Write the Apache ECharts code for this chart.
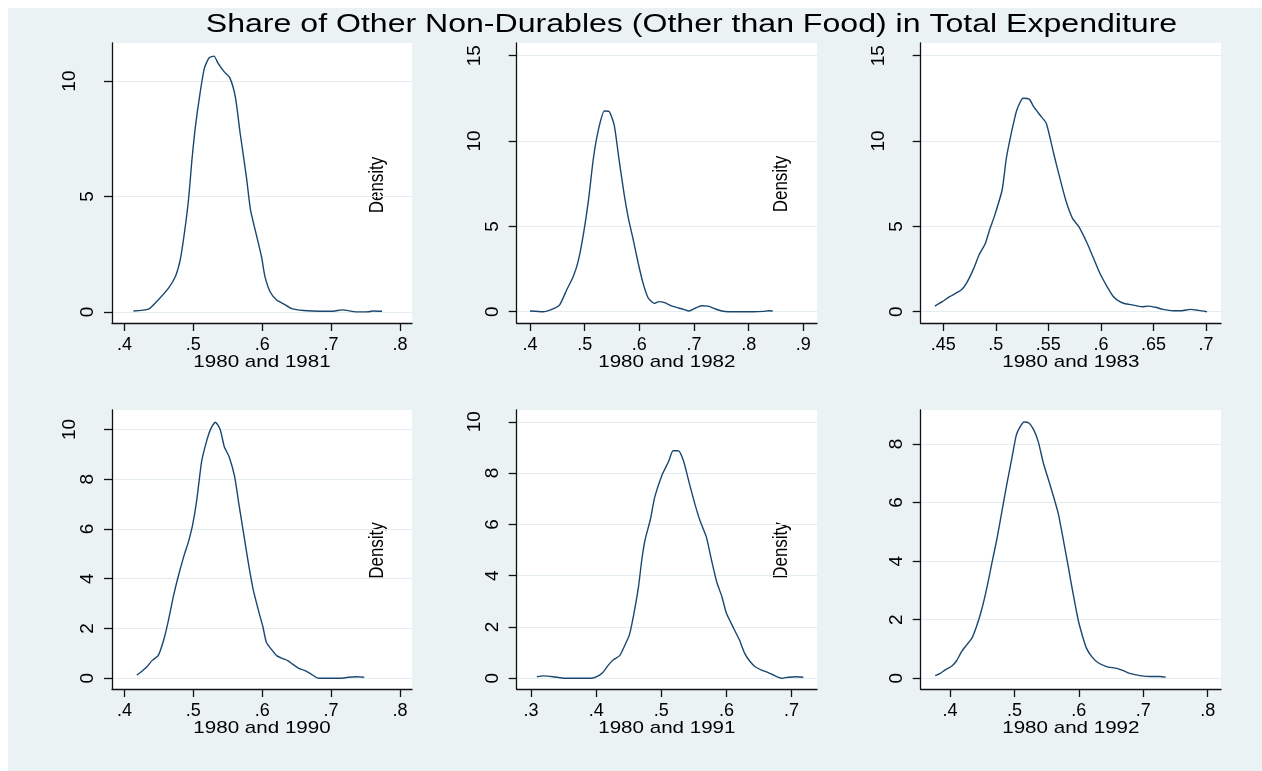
<!DOCTYPE html>
<html>
<head>
<meta charset="utf-8">
<title>Share of Other Non-Durables</title>
<script src="https://cdn.jsdelivr.net/npm/echarts@6.0.0/dist/echarts.min.js"></script>
<style>
  html, body { margin: 0; padding: 0; background: #fff; }
  #main { position: absolute; left: 8px; top: 8px; width: 1254px; height: 763px; }
</style>
</head>
<body>
<div id="main"></div>
<script>
// kernel density curves
const x1981 = [0.413, 0.435, 0.449, 0.464, 0.474, 0.481, 0.487, 0.493, 0.498, 0.503, 0.509, 0.516, 0.523, 0.530, 0.536, 0.545, 0.553, 0.561, 0.568, 0.577, 0.583, 0.591, 0.599, 0.604, 0.612, 0.621, 0.631, 0.643, 0.660, 0.684, 0.703, 0.716, 0.737, 0.752, 0.761, 0.774];
const y1981 = [0.04, 0.12, 0.52, 1.03, 1.53, 2.25, 3.40, 4.85, 6.58, 8.02, 9.32, 10.55, 11.01, 11.08, 10.77, 10.40, 10.14, 9.32, 7.74, 5.86, 4.42, 3.40, 2.39, 1.53, 0.84, 0.52, 0.35, 0.14, 0.06, 0.03, 0.03, 0.09, 0.00, 0.00, 0.04, 0.03];

const x1982 = [0.400, 0.424, 0.440, 0.454, 0.467, 0.479, 0.488, 0.498, 0.507, 0.516, 0.525, 0.536, 0.545, 0.554, 0.563, 0.572, 0.580, 0.589, 0.598, 0.607, 0.616, 0.627, 0.636, 0.646, 0.660, 0.672, 0.681, 0.691, 0.702, 0.714, 0.726, 0.738, 0.751, 0.763, 0.784, 0.809, 0.827, 0.836, 0.844];
const y1982 = [0.04, 0.00, 0.14, 0.39, 1.27, 2.05, 2.93, 4.59, 6.54, 8.99, 10.64, 11.76, 11.72, 10.94, 8.89, 6.93, 5.47, 4.20, 2.84, 1.66, 0.82, 0.49, 0.59, 0.53, 0.33, 0.22, 0.14, 0.04, 0.20, 0.35, 0.33, 0.18, 0.04, 0.00, 0.00, 0.00, 0.02, 0.06, 0.04];

const x1983 = [0.442, 0.449, 0.456, 0.467, 0.472, 0.479, 0.484, 0.490, 0.494, 0.499, 0.506, 0.510, 0.515, 0.520, 0.526, 0.532, 0.536, 0.542, 0.548, 0.555, 0.561, 0.567, 0.573, 0.579, 0.587, 0.593, 0.599, 0.606, 0.612, 0.618, 0.623, 0.631, 0.639, 0.645, 0.652, 0.659, 0.669, 0.677, 0.685, 0.693, 0.701];
const y1983 = [0.33, 0.59, 0.88, 1.27, 1.66, 2.54, 3.32, 4.00, 4.79, 5.66, 7.13, 8.99, 10.54, 11.82, 12.50, 12.44, 12.01, 11.52, 11.04, 9.28, 7.81, 6.44, 5.47, 4.98, 4.00, 3.13, 2.25, 1.46, 0.88, 0.59, 0.47, 0.39, 0.29, 0.33, 0.26, 0.14, 0.06, 0.06, 0.14, 0.08, 0.00];

const x1990 = [0.418, 0.425, 0.433, 0.440, 0.449, 0.457, 0.464, 0.471, 0.478, 0.486, 0.493, 0.499, 0.505, 0.512, 0.519, 0.525, 0.532, 0.539, 0.545, 0.552, 0.560, 0.566, 0.573, 0.580, 0.587, 0.595, 0.601, 0.606, 0.614, 0.621, 0.629, 0.637, 0.644, 0.653, 0.662, 0.671, 0.682, 0.699, 0.713, 0.725, 0.737, 0.748];
const y1990 = [0.13, 0.27, 0.47, 0.71, 0.91, 1.54, 2.34, 3.28, 4.08, 4.88, 5.49, 6.16, 7.16, 8.70, 9.50, 10.00, 10.29, 10.00, 9.30, 8.90, 8.10, 7.03, 5.82, 4.62, 3.55, 2.68, 2.07, 1.45, 1.14, 0.91, 0.80, 0.71, 0.57, 0.40, 0.31, 0.17, 0.00, 0.00, 0.00, 0.04, 0.06, 0.04];

const x1991 = [0.309, 0.319, 0.334, 0.352, 0.373, 0.393, 0.401, 0.409, 0.419, 0.426, 0.436, 0.443, 0.451, 0.458, 0.465, 0.470, 0.475, 0.483, 0.490, 0.501, 0.511, 0.518, 0.526, 0.534, 0.543, 0.552, 0.560, 0.569, 0.577, 0.585, 0.593, 0.600, 0.611, 0.620, 0.628, 0.635, 0.644, 0.654, 0.664, 0.674, 0.685, 0.695, 0.708, 0.718];
const y1991 = [0.06, 0.09, 0.06, 0.00, 0.00, 0.00, 0.06, 0.19, 0.52, 0.71, 0.88, 1.23, 1.69, 2.53, 3.57, 4.61, 5.39, 6.17, 7.07, 7.92, 8.44, 8.87, 8.87, 8.48, 7.60, 6.75, 6.10, 5.52, 4.61, 3.76, 3.18, 2.53, 1.95, 1.49, 0.97, 0.69, 0.45, 0.32, 0.22, 0.10, 0.00, 0.04, 0.06, 0.04];

const x1992 = [0.377, 0.385, 0.392, 0.403, 0.410, 0.418, 0.426, 0.434, 0.441, 0.449, 0.457, 0.465, 0.473, 0.480, 0.488, 0.496, 0.503, 0.509, 0.515, 0.523, 0.530, 0.537, 0.545, 0.553, 0.560, 0.568, 0.576, 0.584, 0.591, 0.599, 0.606, 0.612, 0.620, 0.630, 0.643, 0.659, 0.669, 0.679, 0.695, 0.711, 0.726, 0.735];
const y1992 = [0.09, 0.17, 0.28, 0.42, 0.59, 0.91, 1.14, 1.37, 1.76, 2.33, 3.07, 3.93, 4.78, 5.63, 6.60, 7.51, 8.31, 8.59, 8.75, 8.71, 8.48, 8.08, 7.34, 6.77, 6.26, 5.63, 4.72, 3.76, 2.90, 1.99, 1.42, 1.02, 0.74, 0.53, 0.40, 0.34, 0.26, 0.17, 0.09, 0.06, 0.06, 0.04];

const panelTitles = ['1980 and 1981', '1980 and 1982', '1980 and 1983', '1980 and 1990', '1980 and 1991', '1980 and 1992'];

const xTicks1981 = [0.4, 0.5, 0.6, 0.7, 0.8];
const xTicks1982 = [0.4, 0.5, 0.6, 0.7, 0.8, 0.9];
const xTicks1983 = [0.45, 0.5, 0.55, 0.6, 0.65, 0.7];
const xTicks1990 = [0.4, 0.5, 0.6, 0.7, 0.8];
const xTicks1991 = [0.3, 0.4, 0.5, 0.6, 0.7];
const xTicks1992 = [0.4, 0.5, 0.6, 0.7, 0.8];

const yTicksTop1 = [0, 5, 10];
const yTicksTop = [0, 5, 10, 15];
const yTicks1990 = [0, 2, 4, 6, 8, 10];
const yTicks1991 = [0, 2, 4, 6, 8, 10];
const yTicks1992 = [0, 2, 4, 6, 8];

const mainTitle = 'Share of Other Non-Durables (Other than Food) in Total Expenditure';
const yTitle = 'Density';

const FONT = '"Liberation Sans", Arial, sans-serif';
const LINE = '#1a476f';
const STRETCH = 1.21;

const panels = [
  { xs: x1981, ys: y1981, xTicks: xTicks1981, yTicks: yTicksTop1, xr: [0.382, 0.8174], yr: [-0.48, 11.65] },
  { xs: x1982, ys: y1982, xTicks: xTicks1982, yTicks: yTicksTop, xr: [0.3757, 0.925], yr: [-0.66, 15.74] },
  { xs: x1983, ys: y1983, xTicks: xTicks1983, yTicks: yTicksTop, xr: [0.4285, 0.7143], yr: [-0.66, 15.74] },
  { xs: x1990, ys: y1990, xTicks: xTicks1990, yTicks: yTicks1990, xr: [0.382, 0.8174], yr: [-0.43, 10.78] },
  { xs: x1991, ys: y1991, xTicks: xTicks1991, yTicks: yTicks1991, xr: [0.278, 0.739], yr: [-0.42, 10.46] },
  { xs: x1992, ys: y1992, xTicks: xTicks1992, yTicks: yTicks1992, xr: [0.3545, 0.8207], yr: [-0.366, 9.16] }
];

// plot regions, in container pixels
const boxes = [
  { left: 104, top: 35, width: 300, height: 280 },
  { left: 508.7, top: 35, width: 300.3, height: 280 },
  { left: 912.7, top: 35, width: 300.3, height: 280 },
  { left: 104, top: 402, width: 300, height: 279 },
  { left: 508.7, top: 402, width: 300.3, height: 279 },
  { left: 912.7, top: 402, width: 300.3, height: 279 }
];

const axisLineStyle = { color: '#111', width: 1.3 };

const grid = [];
const xAxis = [];
const yAxis = [];
const series = [];
const graphic = [];

panels.forEach((p, i) => {
  const b = boxes[i];
  grid.push({
    left: b.left, top: b.top, width: b.width, height: b.height,
    show: true, backgroundColor: '#fff', borderWidth: 0,
    outerBoundsMode: 'none'
  });

  xAxis.push({
    gridIndex: i, type: 'value', min: p.xr[0], max: p.xr[1],
    axisLine: { show: true, onZero: false, lineStyle: axisLineStyle },
    axisTick: { show: true, length: 8, customValues: p.xTicks, lineStyle: axisLineStyle },
    axisLabel: {
      customValues: p.xTicks, margin: 13, fontSize: 18, color: '#000', fontFamily: FONT,
      formatter: v => String(v).replace(/^0\./, '.')
    },
    splitLine: { show: false }
  });

  yAxis.push({
    gridIndex: i, type: 'value', min: p.yr[0], max: p.yr[1],
    axisLine: { show: true, onZero: false, lineStyle: axisLineStyle },
    axisTick: { show: true, length: 8, customValues: p.yTicks, lineStyle: axisLineStyle },
    axisLabel: {
      customValues: p.yTicks, rotate: 90, margin: 15, fontSize: 19, lineHeight: 18,
      color: '#000', fontFamily: FONT,
      formatter: v => (v >= 10 ? v + '\n ' : String(v))
    },
    splitLine: { show: true, lineStyle: { color: '#e3ecee', width: 1 } }
  });

  series.push({
    type: 'line', xAxisIndex: i, yAxisIndex: i,
    data: p.xs.map((x, k) => [x, p.ys[k]]),
    showSymbol: false, symbol: 'none', smooth: 0.2,
    lineStyle: { color: LINE, width: 1.4 },
    silent: true
  });

  // x-axis title, stretched like the source
  graphic.push({
    type: 'text',
    x: b.left + b.width / 2, y: b.top + b.height + 39,
    scaleX: STRETCH,
    style: { text: panelTitles[i], fontSize: 17, fontFamily: FONT, fill: '#000', align: 'center', verticalAlign: 'middle' }
  });
});

// 'Density' labels sit inside the right of the first two columns
[[369.5, 177], [773.5, 176], [369.5, 542.5], [773.5, 542.5]].forEach(pos => {
  graphic.push({
    type: 'text', x: pos[0], y: pos[1], rotation: Math.PI / 2, scaleY: STRETCH,
    style: { text: yTitle, fontSize: 17, fontFamily: FONT, fill: '#000', align: 'center', verticalAlign: 'middle' }
  });
});

graphic.push({
  type: 'text', x: 683.5, y: 17, scaleX: STRETCH,
  style: { text: mainTitle, fontSize: 26.5, fontFamily: FONT, fill: '#000', align: 'center', verticalAlign: 'middle' }
});

const chart = echarts.init(document.getElementById('main'), null, { renderer: 'canvas' });
chart.setOption({
  backgroundColor: '#eaf2f3',
  animation: false,
  textStyle: { fontFamily: FONT },
  grid: grid,
  xAxis: xAxis,
  yAxis: yAxis,
  series: series,
  graphic: graphic
});

window.addEventListener('resize', function () {
  chart.resize();
});
</script>
</body>
</html>
